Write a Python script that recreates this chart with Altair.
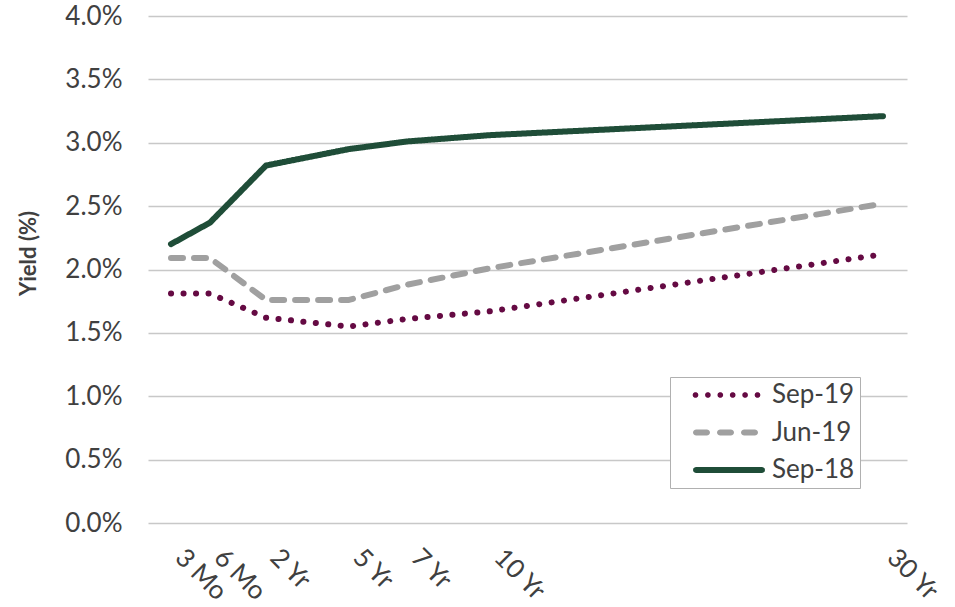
import altair as alt
import pandas as pd
import math

# ---- data ----
tenors = ["3 Mo", "6 Mo", "2 Yr", "5 Yr", "7 Yr", "10 Yr", "30 Yr"]
maturity_years = [0.25, 0.5, 2, 5, 7, 10, 30]
sep19 = [1.81, 1.81, 1.62, 1.55, 1.61, 1.67, 2.12]
jun19 = [2.09, 2.09, 1.76, 1.76, 1.88, 2.01, 2.52]
sep18 = [2.20, 2.37, 2.82, 2.95, 3.01, 3.06, 3.21]
series_names = ["Sep-19", "Jun-19", "Sep-18"]
y_ticks = [0.0, 0.5, 1.0, 1.5, 2.0, 2.5, 3.0, 3.5, 4.0]

rows = []
for name, vals in zip(series_names, [sep19, jun19, sep18]):
    for t, yr, v in zip(tenors, maturity_years, vals):
        rows.append({"series": name, "tenor": t, "years": yr, "yield": v})
df = pd.DataFrame(rows)

# ---- styling ----
W, H = 759, 507
# piecewise scale for the tenor axis (outer stops stretch it over the full plot width)
x_domain = [0.1] + maturity_years + [31.2]
x_range = [0, 23, 62, 118, 201, 259, 342, 735, W]
colors = ["#650a43", "#a0a0a0", "#1f4d38"]
dashes = [[0.1, 12.4], [12, 11], [1, 0]]
FONT = "Lato"
TXT = "#404040"

label_map = "{" + ",".join(f"'{y}':'{t}'" for y, t in zip(maturity_years, tenors)) + "}"

# legend glyphs: SVG paths in symbol units (1 unit = sqrt(symbolSize)/2 px)
SYM = 26          # sqrt of the legend symbol size, px
U = SYM / 2       # px per path unit


def poly(points):
    return "M" + " L".join(f"{x:.4f},{y:.4f}" for x, y in points) + " Z"


def pill(x1, x2, r, n=6):
    pts = []
    for i in range(n + 1):  # right cap
        a = -math.pi / 2 + math.pi * i / n
        pts.append((x2 - r + r * math.cos(a), r * math.sin(a)))
    for i in range(n + 1):  # left cap
        a = math.pi / 2 + math.pi * i / n
        pts.append((x1 + r + r * math.cos(a), r * math.sin(a)))
    return poly(pts)


def dot(cx, r, n=10):
    return poly([(cx + r * math.cos(2 * math.pi * i / n), r * math.sin(2 * math.pi * i / n)) for i in range(n)])


def px(v):
    return v / U


dot_path = " ".join(dot(px(7.5 + i * 12.4), px(2.9)) for i in range(6))
dash_path = " ".join(pill(px(a), px(b), px(3.0)) for a, b in [(5, 22), (29, 46), (53, 70)])
solid_path = pill(px(5), px(77), px(3.0))
glyphs = [dot_path, dash_path, solid_path]

x_enc = alt.X(
    "years:Q",
    scale=alt.Scale(domain=x_domain, range=x_range, zero=False, nice=False),
    axis=alt.Axis(
        values=maturity_years,
        labelExpr=label_map + "[datum.value]",
        labelAngle=45,
        labelAlign="left",
        labelBaseline="middle",
        labelPadding=30,
        labelOffset=8,
        labelFlush=False,
        labelOverlap=False,
        labelFont=FONT,
        labelFontSize=26,
        labelColor=TXT,
        ticks=False,
        domain=False,
        grid=False,
        title=None,
    ),
)
y_enc = alt.Y(
    "yield:Q",
    scale=alt.Scale(domain=[0, 4], nice=False, zero=True),
    axis=alt.Axis(
        values=y_ticks,
        labelExpr="format(datum.value, '.1f') + '%'",
        grid=True,
        gridColor="#c8c8c8",
        gridWidth=1.5,
        domain=False,
        ticks=False,
        labelPadding=26,
        labelFont=FONT,
        labelFontSize=26,
        labelColor=TXT,
        title="Yield (%)",
        titleFont=FONT,
        titleFontSize=22,
        titleFontWeight="bold",
        titleColor=TXT,
        titleAngle=-90,
        titleX=-120,
        titleY=237,
        titleAlign="center",
        titleBaseline="middle",
    ),
)

# line layer: its (legend-less) style scales list the series in reverse order so that
# they are not merged with the legend scales of the legend layer
rev_names = series_names[::-1]
lines = alt.Chart(df).mark_line(strokeWidth=6, strokeCap="round", strokeJoin="round").encode(
    x=x_enc,
    y=y_enc,
    stroke=alt.Stroke("series:N", scale=alt.Scale(domain=rev_names, range=colors[::-1]), legend=None),
    strokeDash=alt.StrokeDash("series:N", scale=alt.Scale(domain=rev_names, range=dashes[::-1]), legend=None),
    order=alt.Order("years:Q"),
)

lg = alt.Legend(
    title=None,
    orient="none",
    legendX=522,
    legendY=361,
    labelFont=FONT,
    labelFontSize=26,
    labelColor=TXT,
    labelExpr="datum.label + '\u00a0\u00a0\u00a0\u00a0'",
    symbolSize=SYM * SYM,
    symbolStrokeWidth=0,
    strokeColor="#b0b0b0",
    fillColor="white",
    padding=5,
    rowPadding=11.5,
    labelOffset=71,
)

# legend layer: draws nothing (filtered to no rows), only supplies the legend
legend_layer = alt.Chart(df).transform_filter("datum.yield < -100").mark_point(filled=True, opacity=1).encode(
    x=x_enc,
    y=y_enc,
    color=alt.Color("series:N", scale=alt.Scale(domain=series_names, range=colors), legend=lg),
    shape=alt.Shape("series:N", scale=alt.Scale(domain=series_names, range=glyphs), legend=lg),
)

chart = (
    alt.layer(lines, legend_layer)
    .properties(
        width=W,
        height=H,
        autosize=alt.AutoSizeParams(type="none"),
        padding={"left": 148, "top": 16, "right": 48, "bottom": 84},
        background="white",
    )
    .configure_view(stroke=None)
)

chart.save("out.html", embed_options={"renderer": "svg", "actions": False})
